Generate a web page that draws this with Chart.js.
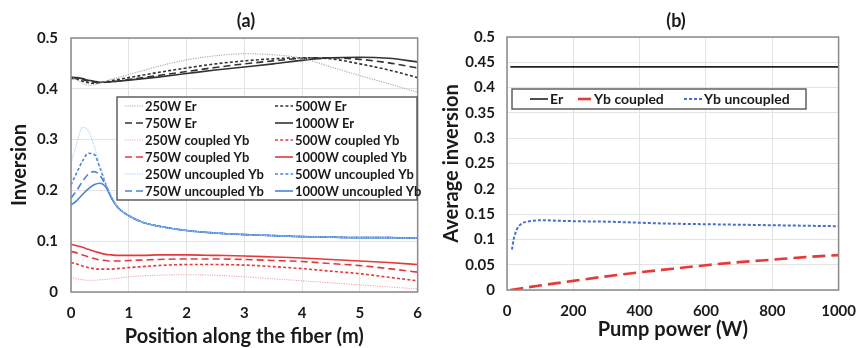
<!DOCTYPE html>
<html>
<head>
<meta charset="utf-8">
<script src="https://cdn.jsdelivr.net/npm/chart.js@4.4.1/dist/chart.umd.min.js"></script>
<style>
  html, body { margin: 0; padding: 0; background: #fff; }
  #wrap { position: relative; width: 868px; height: 348px; overflow: hidden; }
  .panel { position: absolute; top: 0; width: 434px; height: 348px; }
  #pa { left: 0; }
  #pb { left: 434px; }
</style>
</head>
<body>
<div id="wrap">
  <div class="panel" id="pa"><canvas id="ca" width="434" height="348"></canvas></div>
  <div class="panel" id="pb"><canvas id="cb" width="434" height="348"></canvas></div>
</div>
<script>
// ---------- Panel (a) data ----------
const POS_A = [0, 0.1, 0.2, 0.3, 0.4, 0.5, 0.6, 0.7, 0.8, 1, 1.25, 1.5, 2, 2.5, 3, 3.5, 4, 4.5, 5, 5.5, 6];

const ER_250  = [0.423, 0.418, 0.411, 0.407, 0.408, 0.411, 0.415, 0.419, 0.422, 0.428, 0.436, 0.444, 0.457, 0.465, 0.469, 0.467, 0.460, 0.443, 0.426, 0.410, 0.393];
const ER_500  = [0.421, 0.419, 0.415, 0.412, 0.411, 0.412, 0.414, 0.416, 0.418, 0.422, 0.427, 0.432, 0.441, 0.449, 0.455, 0.459, 0.461, 0.459, 0.449, 0.437, 0.422];
const ER_750  = [0.422, 0.420, 0.418, 0.415, 0.413, 0.412, 0.413, 0.414, 0.415, 0.418, 0.422, 0.426, 0.434, 0.442, 0.449, 0.455, 0.460, 0.461, 0.458, 0.451, 0.441];
const ER_1000 = [0.423, 0.422, 0.420, 0.417, 0.415, 0.413, 0.413, 0.414, 0.415, 0.417, 0.420, 0.423, 0.430, 0.437, 0.443, 0.449, 0.456, 0.461, 0.462, 0.460, 0.453];

const CYB_250  = [0.029, 0.026, 0.024, 0.023, 0.023, 0.024, 0.025, 0.026, 0.027, 0.030, 0.032, 0.033, 0.034, 0.033, 0.030, 0.026, 0.022, 0.018, 0.014, 0.010, 0.006];
const CYB_500  = [0.058, 0.055, 0.051, 0.048, 0.046, 0.045, 0.045, 0.045, 0.046, 0.048, 0.050, 0.052, 0.054, 0.054, 0.053, 0.050, 0.046, 0.041, 0.036, 0.029, 0.022];
const CYB_750  = [0.080, 0.077, 0.073, 0.069, 0.066, 0.063, 0.062, 0.061, 0.061, 0.062, 0.063, 0.064, 0.065, 0.065, 0.064, 0.062, 0.060, 0.056, 0.052, 0.046, 0.039];
const CYB_1000 = [0.094, 0.091, 0.088, 0.084, 0.080, 0.077, 0.074, 0.073, 0.072, 0.072, 0.072, 0.073, 0.073, 0.072, 0.071, 0.069, 0.067, 0.064, 0.061, 0.058, 0.054];

const UYB_250  = [0.254, 0.292, 0.324, 0.318, 0.288, 0.250, 0.215, 0.188, 0.168, 0.150, 0.137, 0.130, 0.121, 0.116, 0.113, 0.111, 0.109, 0.108, 0.107, 0.107, 0.106];
const UYB_500  = [0.211, 0.235, 0.258, 0.273, 0.271, 0.245, 0.213, 0.187, 0.168, 0.150, 0.137, 0.130, 0.121, 0.116, 0.113, 0.111, 0.109, 0.108, 0.107, 0.107, 0.106];
const UYB_750  = [0.185, 0.200, 0.218, 0.232, 0.237, 0.230, 0.210, 0.186, 0.168, 0.150, 0.137, 0.130, 0.121, 0.116, 0.113, 0.111, 0.109, 0.108, 0.107, 0.107, 0.106];
const UYB_1000 = [0.171, 0.180, 0.192, 0.203, 0.211, 0.214, 0.207, 0.185, 0.168, 0.150, 0.137, 0.130, 0.121, 0.116, 0.113, 0.111, 0.109, 0.108, 0.107, 0.107, 0.106];

const X_TICKS_A = ['0', '1', '2', '3', '4', '5', '6'];
const Y_TICKS_A = ['0', '0.1', '0.2', '0.3', '0.4', '0.5'];

// ---------- Panel (b) data ----------
const PUMP_ER  = [10, 100, 200, 300, 400, 500, 600, 700, 800, 900, 1000];
const AVG_ER   = [0.441, 0.441, 0.441, 0.441, 0.441, 0.441, 0.441, 0.441, 0.441, 0.441, 0.441];
const PUMP_CYB = [10, 100, 200, 300, 400, 500, 600, 700, 800, 900, 1000];
const AVG_CYB  = [0.000, 0.009, 0.018, 0.027, 0.035, 0.042, 0.049, 0.055, 0.060, 0.065, 0.069];
const PUMP_UYB = [15, 20, 30, 40, 50, 60, 80, 100, 150, 200, 300, 400, 500, 600, 700, 800, 900, 1000];
const AVG_UYB  = [0.080, 0.100, 0.120, 0.129, 0.133, 0.135, 0.137, 0.138, 0.137, 0.136, 0.135, 0.133, 0.131, 0.130, 0.129, 0.128, 0.127, 0.126];

const X_TICKS_B = ['0', '200', '400', '600', '800', '1000'];
const Y_TICKS_B = ['0', '0.05', '0.1', '0.15', '0.2', '0.25', '0.3', '0.35', '0.4', '0.45', '0.5'];

// ---------- styling ----------
const FONT = 'Lato, "Open Sans", "Liberation Sans", sans-serif';
const TXT = '#1a1a1a';
const GRID = '#e3e3e3';
const FRAME = '#8a8a8a';
const BLACK = '#333333', GREY = '#a8a8a8';
const RED = '#e53a3a', PINK = '#f3a7a7';
const BLUE = '#4a84d6', PALEBLUE = '#a9cbf1';

function pts(xs, ys) { return xs.map((x, i) => ({ x: x, y: ys[i] })); }

function ds(label, xs, ys, color, width, dash) {
  return {
    label: label, data: pts(xs, ys), borderColor: color, backgroundColor: color,
    borderWidth: width, borderDash: dash, pointRadius: 0, fill: false,
    cubicInterpolationMode: 'monotone', tension: 0.4
  };
}

const DOT = [1.2, 1.2], SHORT = [3, 2.2], LONG = [7, 4], SOLID = [];

const datasetsA = [
  ds('250W Er', POS_A, ER_250, GREY, 1.1, DOT),
  ds('500W Er', POS_A, ER_500, BLACK, 1.6, SHORT),
  ds('750W Er', POS_A, ER_750, BLACK, 1.6, LONG),
  ds('1000W Er', POS_A, ER_1000, BLACK, 1.6, SOLID),
  ds('250W coupled Yb', POS_A, CYB_250, PINK, 1.1, DOT),
  ds('500W coupled Yb', POS_A, CYB_500, RED, 1.6, SHORT),
  ds('750W coupled Yb', POS_A, CYB_750, RED, 1.6, LONG),
  ds('1000W coupled Yb', POS_A, CYB_1000, RED, 1.6, SOLID),
  ds('250W uncoupled Yb', POS_A, UYB_250, PALEBLUE, 1.1, DOT),
  ds('500W uncoupled Yb', POS_A, UYB_500, BLUE, 1.6, SHORT),
  ds('750W uncoupled Yb', POS_A, UYB_750, BLUE, 1.6, LONG),
  ds('1000W uncoupled Yb', POS_A, UYB_1000, BLUE, 1.6, SOLID)
];

const datasetsB = [
  ds('Er', PUMP_ER, AVG_ER, '#222222', 1.6, SOLID),
  ds('Yb coupled', PUMP_CYB, AVG_CYB, RED, 2.6, [13, 6]),
  ds('Yb uncoupled', PUMP_UYB, AVG_UYB, '#4470cc', 2.0, [3, 2])
];

// plugin: frame, panel title, in-plot legend
function panelPlugin(cfg) {
  return {
    id: 'panel_' + cfg.title,
    afterDraw(chart) {
      const ctx = chart.ctx, a = chart.chartArea;
      ctx.save();
      // frame
      ctx.strokeStyle = FRAME; ctx.lineWidth = 1.5; ctx.setLineDash([]);
      ctx.strokeRect(a.left, a.top, a.right - a.left, a.bottom - a.top);
      // title
      ctx.fillStyle = TXT; ctx.font = 'bold 18px ' + FONT;
      ctx.textAlign = 'center'; ctx.textBaseline = 'middle';
      ctx.fillText(cfg.title, cfg.titleX, 21);
      // legend
      const L = cfg.legend;
      ctx.fillStyle = '#ffffff';
      ctx.fillRect(L.x, L.y, L.w, L.h);
      ctx.strokeStyle = '#555555'; ctx.lineWidth = 1.4;
      ctx.strokeRect(L.x, L.y, L.w, L.h);
      ctx.font = 'bold ' + L.fs + 'px ' + FONT; ctx.textAlign = 'left';
      chart.data.datasets.forEach((d, i) => {
        const p = L.place(i, ctx);
        ctx.strokeStyle = d.borderColor; ctx.lineWidth = d.borderWidth;
        ctx.setLineDash(d.borderDash || []);
        ctx.beginPath(); ctx.moveTo(p.sx, p.y); ctx.lineTo(p.sx + p.sl, p.y); ctx.stroke();
        ctx.setLineDash([]);
        ctx.fillStyle = TXT;
        ctx.fillText(d.label, p.sx + p.sl + 2, p.y + 0.5);
      });
      ctx.restore();
    }
  };
}

function axisTitle(text, pad) {
  return { display: true, text: text, color: TXT, font: { family: FONT, size: 20, weight: 'bold', lineHeight: 1 }, padding: pad };
}
function tickFont() { return { family: FONT, size: 15, weight: 'bold' }; }

// ---------- Chart (a) ----------
new Chart(document.getElementById('ca'), {
  type: 'line',
  data: { datasets: datasetsA },
  options: {
    responsive: false, animation: false, devicePixelRatio: 1,
    layout: { padding: { top: 38, right: 12, bottom: 0, left: 0 } },
    plugins: { legend: { display: false }, tooltip: { enabled: false } },
    scales: {
      x: {
        type: 'linear', min: 0, max: 6,
        ticks: { stepSize: 1, color: TXT, font: tickFont(), padding: 12, maxRotation: 0,
                 callback: (v, i) => X_TICKS_A[i] },
        grid: { color: GRID, drawTicks: false },
        border: { display: false },
        title: axisTitle('Position along the fiber (m)', { top: 0, bottom: 1 }),
        afterFit: (s) => { s.height = 56; }
      },
      y: {
        min: 0, max: 0.5,
        ticks: { stepSize: 0.1, color: TXT, font: tickFont(), padding: 13,
                 callback: (v, i) => Y_TICKS_A[i] },
        grid: { color: GRID, drawTicks: false },
        border: { display: false },
        title: axisTitle('Inversion', { top: 10, bottom: 0 }),
        afterFit: (s) => { s.width = 71; }
      }
    }
  },
  plugins: [panelPlugin({
    title: '(a)', titleX: 246,
    legend: {
      x: 117, y: 97, w: 300, h: 103, fs: 13,
      place: (i) => {
        const col = i % 2, row = Math.floor(i / 2);
        return { sx: col === 0 ? 125 : 275, sl: 18, y: 106 + row * 17 };
      }
    }
  })]
});

// ---------- Chart (b) ----------
const legBx = [96, 144, 250];
new Chart(document.getElementById('cb'), {
  type: 'line',
  data: { datasets: datasetsB },
  options: {
    responsive: false, animation: false, devicePixelRatio: 1,
    layout: { padding: { top: 37, right: 17, bottom: 0, left: 0 } },
    plugins: { legend: { display: false }, tooltip: { enabled: false } },
    scales: {
      x: {
        type: 'linear', min: 0, max: 1000,
        ticks: { stepSize: 200, color: TXT, font: tickFont(), padding: 12, maxRotation: 0,
                 callback: (v, i) => X_TICKS_B[i] },
        grid: { color: GRID, drawTicks: false },
        border: { display: false },
        title: axisTitle('Pump power (W)', { top: 0, bottom: 8 }),
        afterFit: (s) => { s.height = 58; }
      },
      y: {
        min: 0, max: 0.5,
        ticks: { stepSize: 0.05, color: TXT, font: tickFont(), padding: 12,
                 callback: (v, i) => Y_TICKS_B[i] },
        grid: { color: GRID, drawTicks: false },
        border: { display: false },
        title: axisTitle('Average inversion', { top: 8, bottom: 0 }),
        afterFit: (s) => { s.width = 73; }
      }
    }
  },
  plugins: [panelPlugin({
    title: '(b)', titleX: 242,
    legend: {
      x: 78, y: 89, w: 294, h: 20, fs: 14,
      place: (i) => ({ sx: legBx[i], sl: i === 1 ? 14 : 18, y: 99 })
    }
  })]
});
</script>
</body>
</html>
